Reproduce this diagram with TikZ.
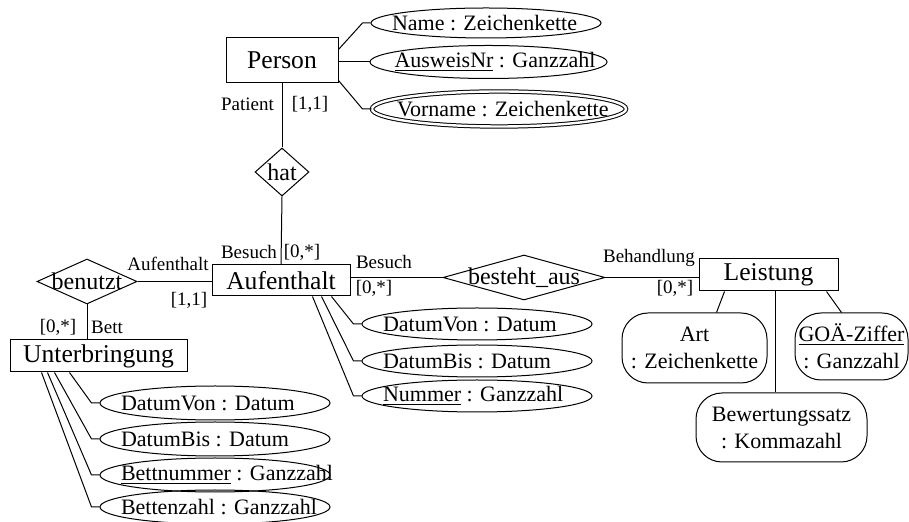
\documentclass[tikz,border=0pt]{standalone}
\usepackage{fontspec}
\setmainfont{Liberation Serif}
\usetikzlibrary{positioning,calc,shapes.geometric}
\newcommand{\attrtxt}[2][94pt]{\makebox[0pt]{\makebox[#1][l]{#2}}}
\newcommand{\ctrtxt}[1]{\makebox[0pt]{#1}}
\tikzset{
  entity/.style={draw, rectangle, inner sep=0pt, align=center,
    font=\fontsize{12.8}{14}\selectfont},
  relation/.style={draw, diamond, inner sep=0pt,
    font=\fontsize{12}{14}\selectfont},
  attribute/.style={draw, ellipse, inner sep=0pt, minimum width=115pt,
    minimum height=16pt, font=\fontsize{11}{13}\selectfont},
  multiattr/.style={attribute, double, double distance=1.2pt},
  compattr/.style={draw, rectangle, rounded corners=13pt, inner sep=0pt,
    align=center, font=\fontsize{11}{13.5}\selectfont},
  role/.style={inner sep=0pt, font=\fontsize{9.5}{11}\selectfont}
}
\begin{document}
\begin{tikzpicture}[x=0.5pt, y=-0.5pt, line width=0.5pt]
  \useasboundingbox (0,0) rectangle (909,522);
  % entities
  \node[entity, minimum width=56pt, minimum height=22.5pt] (person) at (282,60.5) {Person};
  \node[entity, minimum width=69pt, minimum height=15.5pt] (auf) at (281,280.5) {Aufenthalt};
  \node[entity, minimum width=88.5pt, minimum height=16pt] (unt) at (98.5,356) {Unterbringung};
  \node[entity, minimum width=69.5pt, minimum height=16pt] (leist) at (768.5,275) {Leistung};
  % relationships
  \node[relation, minimum width=27pt, minimum height=24pt] (hat) at (282,172) {\ctrtxt{hat}};
  \node[relation, minimum width=50pt, minimum height=22.5pt] (benutzt) at (87,281.5) {\ctrtxt{benutzt}};
  \node[relation, minimum width=81pt, minimum height=22.5pt] (besteht) at (524,277.5) {\ctrtxt{besteht\_aus}};
  % attributes of Person
  \node[attribute, minimum height=15pt] (name) at (486,23) {\attrtxt{Name : Zeichenkette}};
  \node[attribute, minimum width=118.5pt, minimum height=16.5pt] (ausweis) at (488.5,62) {\attrtxt{\underline{AusweisNr} : Ganzzahl}};
  \node[multiattr, minimum width=127pt, minimum height=17.5pt] (vorname) at (499,109) {\attrtxt[102pt]{Vorname : Zeichenkette}};
  % attributes of Aufenthalt
  \node[attribute] (avon) at (477,324) {\attrtxt{DatumVon : Datum}};
  \node[attribute] (abis) at (477,361) {\attrtxt{DatumBis : Datum}};
  \node[attribute] (anum) at (477,396) {\attrtxt{\underline{Nummer} : Ganzzahl}};
  % attributes of Unterbringung
  \node[attribute, minimum height=17pt] (uvon) at (215,403) {\attrtxt{DatumVon : Datum}};
  \node[attribute, minimum height=17pt] (ubis) at (215,439) {\attrtxt{DatumBis : Datum}};
  \node[attribute, minimum height=17pt] (ubnr) at (215,475) {\attrtxt{\underline{Bettnummer} : Ganzzahl}};
  \node[attribute, minimum height=17pt] (ubz) at (215,507) {\attrtxt{Bettenzahl : Ganzzahl}};
  % attributes of Leistung
  \node[compattr, minimum width=72.5pt, minimum height=35pt] (art) at (694.5,348) {Art\\: Zeichenkette};
  \node[compattr, minimum width=56.5pt, minimum height=33.5pt] (goae) at (851.5,346.5) {\underline{GOÄ-Ziffer}\\: Ganzzahl};
  \node[compattr, minimum width=85.5pt, minimum height=34.5pt] (bewert) at (781.5,427.5) {Bewertungssatz\\: Kommazahl};
  % roles and cardinalities
  \node[role] (patient) at (247.5,104) {Patient};
  \node[role] (c11p) at (310,104) {[1,1]};
  \node[role] (besuchA) at (249,252) {Besuch};
  \node[role] (c0nA) at (302,252) {[0,*]};
  \node[role] (aufrole) at (168,264) {Aufenthalt};
  \node[role] (c11a) at (189,300) {[1,1]};
  \node[role] (bett) at (107,327) {Bett};
  \node[role] (c0nU) at (58,327) {[0,*]};
  \node[role] (besuchB) at (384,262) {Besuch};
  \node[role] (c0nB) at (374,288) {[0,*]};
  \node[role] (behandlung) at (649,258) {Behandlung};
  \node[role] (c0nL) at (675,288) {[0,*]};
  % connectors
  \draw (person.south) -- (hat.north);
  \draw (hat.south) -- (auf.north);
  \draw (benutzt.east) -- (benutzt.east -| auf.west);
  \draw (benutzt.south) -- (benutzt.south |- unt.north);
  \draw (besteht.west -| auf.east) -- (besteht.west);
  \draw (besteht.east) -- (besteht.east -| leist.west);
  \draw ($(person.north east)+(0,12)$) -- ($(name.west)+(-8,0)$) -- (name.west);
  \draw (ausweis.west -| person.east) -- (ausweis.west);
  \draw ($(person.south east)+(0,-3)$) -- ($(vorname.west)+(-9,0)$) -- (vorname.west);
  \foreach \a/\d in {avon/120, abis/110, anum/101}
    \draw ($(auf.south west)+(\d,0)$) -- ($(\a.west)+(-8,0)$) -- (\a.west);
  \foreach \a/\d in {uvon/60, ubis/45, ubnr/38, ubz/32}
    \draw ($(unt.south west)+(\d,0)$) -- ($(\a.west)+(-8,0)$) -- (\a.west);
  \draw ($(leist.south west)+(26,0)$) -- ($(art.north)+(22,0)$);
  \draw ($(leist.south west)+(128,0)$) -- ($(goae.north)+(-10,0)$);
  \coordinate (lb) at ($(leist.south west)+(77,0)$);
  \draw (lb) -- (lb |- bewert.north);
\end{tikzpicture}
\end{document}
